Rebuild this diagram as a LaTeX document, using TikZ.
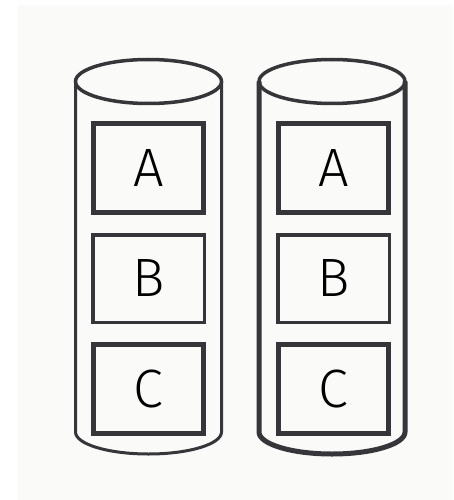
\documentclass[tikz,border=0pt]{standalone}
\usepackage{fontspec}
\usepackage{tikz}
\usetikzlibrary{positioning}
\newfontfamily\blockfont{Fira Sans Light}
\definecolor{inkgray}{RGB}{54,54,58}
\definecolor{papergray}{RGB}{250,250,248}
\tikzset{every picture/.append style={thick}}
\tikzset{
    blockbox/.style={draw=inkgray, inner sep=0pt, minimum width=110pt, minimum height=89pt, line width=5pt, font=\fontsize{54}{54}\selectfont\blockfont},
    thinbox/.style={blockbox, minimum width=111.5pt, minimum height=87.5pt, line width=3.5pt}
}

\begin{document}
\begin{tikzpicture}[x=1pt, y=-1pt]
    % --- Background ---
    \useasboundingbox (0,0) rectangle (453,500);
    \fill[papergray] (18,5) rectangle (453,500);

    % --- Two disks, each holding blocks A, B, C ---
    \foreach \cx/\bx/\n/\w in {148.5/148.5/1/3, 332/333.5/2/5} {
        \draw[inkgray, line width=\w pt] (\cx-73,81.5) -- (\cx-73,432)
            arc[start angle=180, end angle=0, x radius=73, y radius=22] -- (\cx+73,81.5);
        \draw[inkgray, line width=3.5pt] (\cx,81.5) ellipse [x radius=73, y radius=22];

        \node[blockbox] (A\n) at (\bx,168) {A};
        \node[thinbox]  (B\n) at (\bx,278.5) {B};
        \node[blockbox] (C\n) at (\bx,389) {C};
    }
\end{tikzpicture}
\end{document}
